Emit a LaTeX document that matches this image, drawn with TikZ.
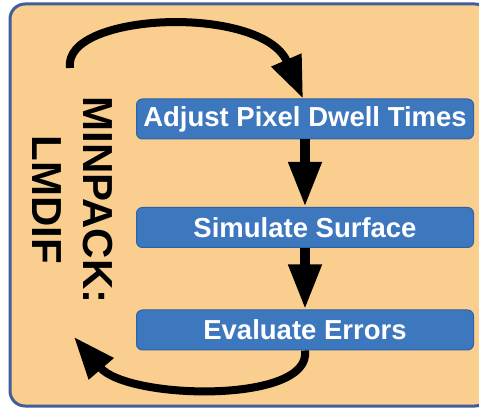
\documentclass[tikz,border=0pt]{standalone}
\usepackage{fontspec}
\setmainfont{Liberation Sans}
\usetikzlibrary{arrows.meta}
\definecolor{panelfill}{HTML}{F9CE8E}
\definecolor{panelline}{HTML}{3F5E9A}
\definecolor{boxfill}{HTML}{3D77BE}
\definecolor{boxline}{HTML}{2E62A6}
\tikzset{
  stepbox/.style={draw=boxline, line width=1pt, fill=boxfill, rounded corners=6pt,
    minimum width=337pt, minimum height=40pt, inner sep=0pt,
    text=white, font=\bfseries\fontsize{27.5}{30}\selectfont},
  sidelabel/.style={rotate=-90, inner sep=0pt, font=\bfseries\fontsize{42}{44}\selectfont},
  downarrow/.style={line width=10pt, -{Triangle[length=45pt,width=31pt]}},
  looparrow/.style={line width=8pt, -{Triangle[length=42pt,width=31pt]}}
}
\begin{document}
\begin{tikzpicture}[x=1pt,y=-1pt]
  \useasboundingbox (0,0) rectangle (479,411);
  % outer panel
  \draw[panelline, line width=3pt, fill=panelfill, rounded corners=15pt]
    (10,4) rectangle (490,406);

  % process steps
  \node[stepbox] (adj) at (305,119) {Adjust Pixel Dwell Times};
  \node[stepbox] (sim) at (305,227.5) {Simulate Surface};
  \node[stepbox] (eva) at (305,330) {Evaluate Errors};

  % step-to-step arrows
  \draw[downarrow] (adj.south) -- (sim.north);
  \draw[downarrow] (sim.south) -- (eva.north);

  % optimiser loop
  \coordinate (loopstart) at (70,68);
  \coordinate (loopend) at (74,337);
  \draw[looparrow] (loopstart) .. controls (62,12) and (262,4) .. ([xshift=-2pt]adj.north);
  \draw[looparrow] (eva.south) .. controls (312,404) and (128,400) .. (loopend);

  % rotated solver name
  \node[sidelabel] (minpack) at (98,200) {MINPACK:};
  \node[sidelabel] (lmdif) at (47,200) {LMDIF};
\end{tikzpicture}
\end{document}
